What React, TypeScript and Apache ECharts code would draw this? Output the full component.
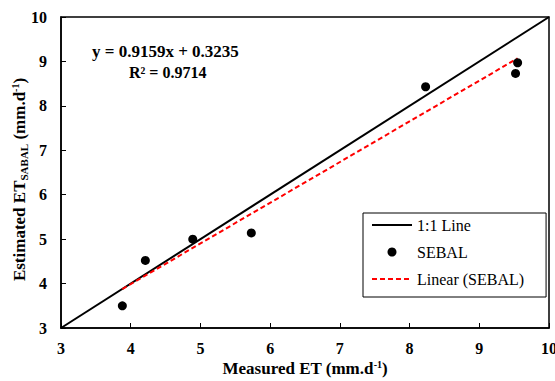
import React, { useEffect, useRef } from "react";
import * as echarts from "echarts";

const measuredET = [3.88, 4.21, 4.89, 5.73, 8.23, 9.52, 9.55];
const sebalET = [3.5, 4.52, 5.0, 5.14, 8.43, 8.73, 8.97];
const oneToOneX = [3, 10];
const oneToOneY = [3, 10];
const slope = 0.9159;
const intercept = 0.3235;
const r2 = 0.9714;
const axisMin = 3;
const axisMax = 10;

const FONT = "Liberation Serif";

export default function App() {
  const ref = useRef<HTMLDivElement>(null);
  useEffect(() => {
    const chart = echarts.init(ref.current!, null, { renderer: "svg" });
    const xMin = Math.min(...measuredET);
    const xMax = Math.max(...measuredET);
    const trend = [
      [xMin, slope * xMin + intercept],
      [xMax, slope * xMax + intercept],
    ];
    chart.setOption({
      animation: false,
      backgroundColor: "#fff",
      textStyle: { fontFamily: FONT },
      grid: {
        left: 61,
        right: 6,
        top: 17,
        bottom: 53,
        show: true,
        borderColor: "#000",
        borderWidth: 1.5,
        outerBoundsMode: "none",
        containLabel: false,
      },
      xAxis: {
        type: "value",
        min: axisMin,
        max: axisMax,
        interval: 1,
        splitLine: { show: false },
        axisLine: { lineStyle: { color: "#000", width: 1.5 } },
        axisTick: { inside: true, length: 5, lineStyle: { color: "#000" } },
        axisLabel: {
          color: "#000",
          fontFamily: FONT,
          fontWeight: "bold",
          fontSize: 16,
          margin: 12,
        },
        name: "{a|Measured ET (mm.d}{s|-1}{a|)}",
        nameLocation: "middle",
        nameGap: 31,
        nameMoveOverlap: false,
        nameTextStyle: {
          rich: {
            a: { fontFamily: FONT, fontWeight: "bold", fontSize: 17, color: "#000" },
            s: { fontFamily: FONT, fontWeight: "bold", fontSize: 10, color: "#000", padding: [0, 0, 8, 0] },
          },
        },
      },
      yAxis: {
        type: "value",
        min: axisMin,
        max: axisMax,
        interval: 1,
        splitLine: { show: false },
        axisLine: { lineStyle: { color: "#000", width: 1.5 } },
        axisTick: { inside: true, length: 5, lineStyle: { color: "#000" } },
        axisLabel: {
          color: "#000",
          fontFamily: FONT,
          fontWeight: "bold",
          fontSize: 16,
          margin: 14,
        },
        name: "{a|Estimated ET}{b|SABAL}{a| (mm.d}{s|-1}{a|)}{pad|}",
        nameLocation: "middle",
        nameRotate: 90,
        nameGap: 32,
        nameMoveOverlap: false,
        nameTextStyle: {
          rich: {
            a: { fontFamily: FONT, fontWeight: "bold", fontSize: 17, color: "#000" },
            b: { fontFamily: FONT, fontWeight: "bold", fontSize: 11, color: "#000", padding: [8, 0, 0, 0] },
            s: { fontFamily: FONT, fontWeight: "bold", fontSize: 10, color: "#000", padding: [0, 0, 8, 0] },
            pad: { width: 14 },
          },
        },
      },
      legend: {
        orient: "vertical",
        left: 363,
        top: 213,
        itemWidth: 40,
        itemHeight: 9,
        itemGap: 11,
        padding: [4, 22, 10, 8],
        borderColor: "#000",
        borderWidth: 1,
        backgroundColor: "#fff",
        textStyle: { fontFamily: FONT, fontSize: 16, color: "#000" },
        data: [
          { name: "1:1 Line", itemStyle: { opacity: 0 } },
          { name: "SEBAL" },
          { name: "Linear (SEBAL)", itemStyle: { opacity: 0 } },
        ],
      },
      graphic: [
        {
          type: "text",
          left: 92,
          top: 43,
          style: {
            text: "y = " + slope.toFixed(4) + "x + " + intercept.toFixed(4),
            fontFamily: FONT,
            fontWeight: "bold",
            fontSize: 17,
            fill: "#000",
          },
        },
        {
          type: "text",
          left: 129,
          top: 64,
          style: {
            text: "R\u00B2 = " + r2.toFixed(4),
            fontFamily: FONT,
            fontWeight: "bold",
            fontSize: 16,
            fill: "#000",
          },
        },
      ],
      series: [
        {
          name: "1:1 Line",
          type: "line",
          data: oneToOneX.map((x, i) => [x, oneToOneY[i]]),
          symbol: "none",
          lineStyle: { color: "#000", width: 2 },
          itemStyle: { color: "#000" },
          z: 2,
        },
        {
          name: "SEBAL",
          type: "scatter",
          data: measuredET.map((x, i) => [x, sebalET[i]]),
          symbol: "circle",
          symbolSize: 9,
          itemStyle: { color: "#000", opacity: 1 },
          z: 4,
        },
        {
          name: "Linear (SEBAL)",
          type: "line",
          data: trend,
          symbol: "none",
          lineStyle: { color: "#ff0000", width: 2, type: [5, 3] },
          itemStyle: { color: "#ff0000" },
          z: 3,
        },
      ],
    });
    return () => chart.dispose();
  }, []);
  return <div ref={ref} style={{ width: 555, height: 381, position: "absolute", left: 0, top: 0 }} />;
}
